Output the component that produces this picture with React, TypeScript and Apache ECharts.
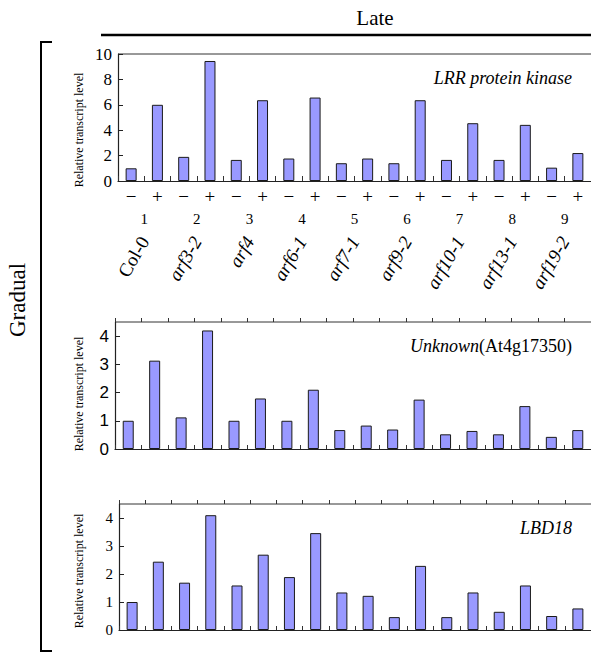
import React, { useEffect, useRef } from "react";
import * as echarts from "echarts";

// −/+ treatment for each of the nine genotypes
const treatments = ["−", "+", "−", "+", "−", "+", "−", "+", "−", "+", "−", "+", "−", "+", "−", "+", "−", "+"];
const pairNumbers = ["1", "2", "3", "4", "5", "6", "7", "8", "9"];
const genotypes = ["Col-0", "arf3-2", "arf4", "arf6-1", "arf7-1", "arf9-2", "arf10-1", "arf13-1", "arf19-2"];

// Relative transcript levels
const lrrKinase = [1.0, 6.0, 1.9, 9.45, 1.66, 6.36, 1.77, 6.57, 1.4, 1.77, 1.4, 6.36, 1.66, 4.55, 1.66, 4.42, 1.05, 2.2];
const unknownGene = [1.0, 3.13, 1.12, 4.2, 1.0, 1.79, 1.0, 2.1, 0.67, 0.83, 0.69, 1.75, 0.52, 0.64, 0.52, 1.52, 0.43, 0.67];
const lbd18 = [1.0, 2.44, 1.69, 4.1, 1.59, 2.69, 1.89, 3.46, 1.34, 1.22, 0.46, 2.29, 0.46, 1.34, 0.65, 1.59, 0.5, 0.77];

const SERIF = "Times New Roman, Liberation Serif, serif";
const SANS = "Arial, Liberation Sans, sans-serif";
const INK = "#222";

export default function App() {
  const ref = useRef<HTMLDivElement>(null);

  useEffect(() => {
    if (!ref.current) return;
    const chart = echarts.init(ref.current, null, { renderer: "svg" });

    const grids = [
      { left: 118, top: 54, width: 476, height: 127 },
      { left: 115, top: 322, width: 479, height: 127 },
      { left: 119, top: 504, width: 475, height: 126 },
    ];

    const plainX = (gridIndex: number, inside: boolean, showLine: boolean) => ({
      type: "category",
      gridIndex,
      data: treatments,
      boundaryGap: true,
      axisLine: { show: showLine, lineStyle: { color: INK, width: 1.2 } },
      axisTick: { show: true, inside, length: 4, interval: 0, lineStyle: { color: "#333" } },
      axisLabel: { show: false },
    });

    const yAxisBase = (gridIndex: number, max: number, interval: number, font: string, size: number, showMax: boolean) => ({
      type: "value",
      gridIndex,
      min: 0,
      max,
      interval,
      axisLine: { show: true, lineStyle: { color: INK, width: 1.2 } },
      axisTick: { show: true, inside: true, length: 5, lineStyle: { color: INK } },
      splitLine: { show: false },
      axisLabel: { fontFamily: font, fontSize: size, color: "#000", margin: 6, showMaxLabel: showMax },
    });

    const barSeries = (data: number[], xi: number, yi: number) => ({
      type: "bar",
      data,
      xAxisIndex: xi,
      yAxisIndex: yi,
      barWidth: 11,
      itemStyle: { color: "#9999ff", borderColor: "#1a1a1a", borderWidth: 1 },
    });

    const yName = (y: number) => ({
      type: "text",
      x: 79,
      y,
      rotation: Math.PI / 2,
      style: {
        text: "Relative transcript level",
        fontFamily: SERIF,
        fontSize: 12,
        fill: "#000",
        align: "center",
        verticalAlign: "middle",
      },
    });

    const topBorder = (x1: number, y: number) => ({
      type: "line",
      shape: { x1, y1: y, x2: 591, y2: y },
      style: { stroke: "#333", lineWidth: 1 },
    });

    const titleText = { fontFamily: SERIF, fontStyle: "italic", fontWeight: "normal", fontSize: 18, color: "#000" };

    chart.setOption({
      animation: false,
      textStyle: { fontFamily: SERIF },
      grid: grids,
      title: [
        { text: "LRR protein kinase", right: 14, top: 64, textStyle: titleText },
        {
          text: "{i|Unknown}{n|(At4g17350)}",
          right: 14,
          top: 332,
          textStyle: {
            fontFamily: SERIF,
            fontWeight: "normal",
            rich: {
              i: { fontFamily: SERIF, fontStyle: "italic", fontWeight: "normal", fontSize: 18, color: "#000" },
              n: { fontFamily: SERIF, fontWeight: "normal", fontSize: 18, color: "#000" },
            },
          },
        },
        { text: "LBD18", right: 14, top: 514, textStyle: titleText },
      ],
      xAxis: [
        {
          type: "category",
          gridIndex: 0,
          data: treatments,
          boundaryGap: true,
          axisLine: { show: true, lineStyle: { color: INK, width: 1.2 } },
          axisTick: { show: true, inside: true, length: 5, interval: 0, lineStyle: { color: "#333" } },
          axisLabel: { interval: 0, fontFamily: SERIF, fontSize: 19, color: "#000", margin: 6 },
        },
        {
          type: "category",
          gridIndex: 0,
          data: pairNumbers,
          position: "bottom",
          offset: 28,
          axisLine: { show: false },
          axisTick: { show: false },
          axisLabel: { interval: 0, fontFamily: SERIF, fontSize: 15, color: "#000", margin: 2 },
        },
        {
          type: "category",
          gridIndex: 0,
          data: genotypes,
          position: "bottom",
          offset: 54,
          axisLine: { show: false },
          axisTick: { show: false },
          axisLabel: {
            interval: 0,
            rotate: 60,
            margin: 3,
            formatter: (v: string) => (v === "Col-0" ? `{n|${v}}` : `{i|${v}}`),
            rich: {
              n: { fontFamily: SERIF, fontSize: 19, color: "#000" },
              i: { fontFamily: SERIF, fontStyle: "italic", fontSize: 19, color: "#000" },
            },
          },
        },
        plainX(1, true, true),
        plainX(1, false, false),
        plainX(2, true, true),
        plainX(2, false, false),
      ],
      yAxis: [
        yAxisBase(0, 10, 2, SERIF, 17, true),
        yAxisBase(1, 4.5, 1, SANS, 17, false),
        yAxisBase(2, 4.5, 1, SERIF, 15, false),
      ],
      series: [barSeries(lrrKinase, 0, 0), barSeries(unknownGene, 3, 1), barSeries(lbd18, 5, 2)],
      graphic: [
        {
          type: "text",
          x: 375,
          y: 18,
          style: {
            text: "Late",
            fontFamily: SERIF,
            fontSize: 21,
            fill: "#000",
            align: "center",
            verticalAlign: "middle",
          },
        },
        { type: "line", shape: { x1: 101, y1: 35, x2: 591, y2: 35 }, style: { stroke: "#000", lineWidth: 2.5 } },
        {
          type: "polyline",
          shape: { points: [[52, 42], [41, 42], [41, 651], [52, 651]] },
          style: { stroke: "#000", lineWidth: 2, fill: "none" },
        },
        {
          type: "text",
          x: 17,
          y: 300,
          rotation: Math.PI / 2,
          style: {
            text: "Gradual",
            fontFamily: SERIF,
            fontSize: 23,
            fill: "#000",
            align: "center",
            verticalAlign: "middle",
          },
        },
        yName(130),
        yName(394),
        yName(571),
        topBorder(118, 54),
        topBorder(115, 322),
        topBorder(119, 504),
      ],
    });

    return () => chart.dispose();
  }, []);

  return (
    <div
      ref={ref}
      style={{ position: "fixed", left: 0, top: 0, width: 591, height: 655, background: "#fff" }}
    />
  );
}
